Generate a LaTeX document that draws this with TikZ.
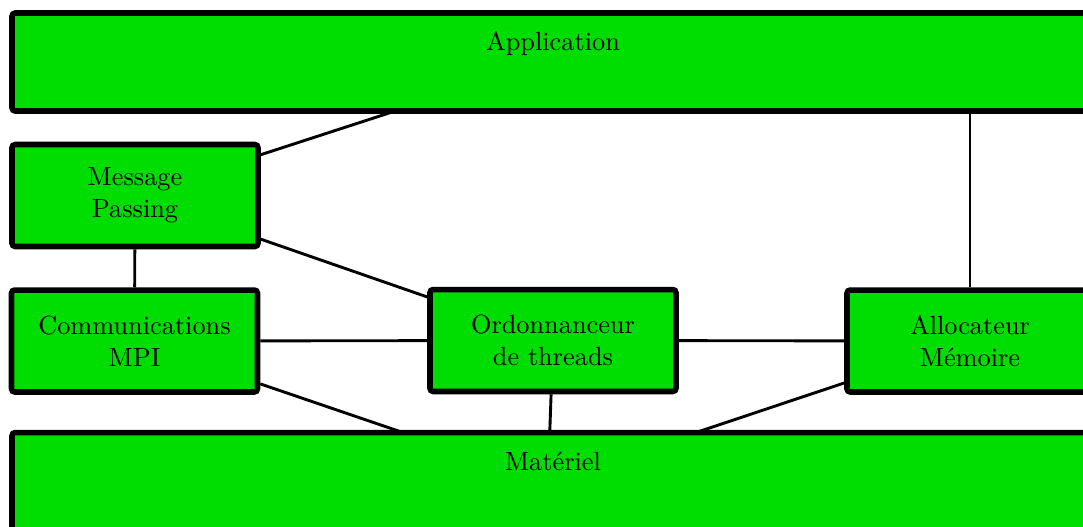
\documentclass[tikz,border=0pt]{standalone}
\usepackage{fontspec}
\usetikzlibrary{backgrounds}
\definecolor{boxgreen}{RGB}{0,221,0}
\begin{document}
\begin{tikzpicture}[x=0.38pt,y=-0.38pt,
  box/.style={draw=black, fill=boxgreen, line width=2.1pt, rounded corners=1.2pt,
    minimum width=93.48pt, minimum height=38.76pt, align=center, inner sep=0pt},
  wide/.style={minimum width=411.16pt, minimum height=37.24pt},
  boxtext/.style={anchor=base, inner sep=0pt},
  link/.style={line width=1.1pt}]
\useasboundingbox (0,0) rectangle (1083,526);
% boxes
\node[box, wide] (app) at (553,62) {};
\node[boxtext] (apptext) at (553,50) {Application};
\node[box] (mp) at (135,195.5) {Message\\Passing};
\node[box] (comm) at (134.5,341) {Communications\\MPI};
\node[box] (ord) at (553,340.5) {Ordonnanceur\\de threads};
\node[box] (alloc) at (970,341) {Allocateur\\Mémoire};
\node[box, wide, minimum height=37.6pt] (mat) at (553,482) {};
\node[boxtext] (mattext) at (553,470) {Matériel};
\coordinate (appin) at (546,62);
\coordinate (matin) at (548,482);
% connectors (behind the boxes)
\begin{scope}[on background layer]
\draw[link] (mp) -- (appin);
\draw[link] (mp) -- (ord);
\draw[link] (mp) -- (comm);
\draw[link] (comm) -- (ord);
\draw[link] (comm) -- (matin);
\draw[link] (ord) -- (matin);
\draw[link] (ord) -- (alloc);
\draw[link] (alloc) -- (matin);
\draw[link] (alloc) -- (alloc |- app);
\end{scope}
\end{tikzpicture}
\end{document}
